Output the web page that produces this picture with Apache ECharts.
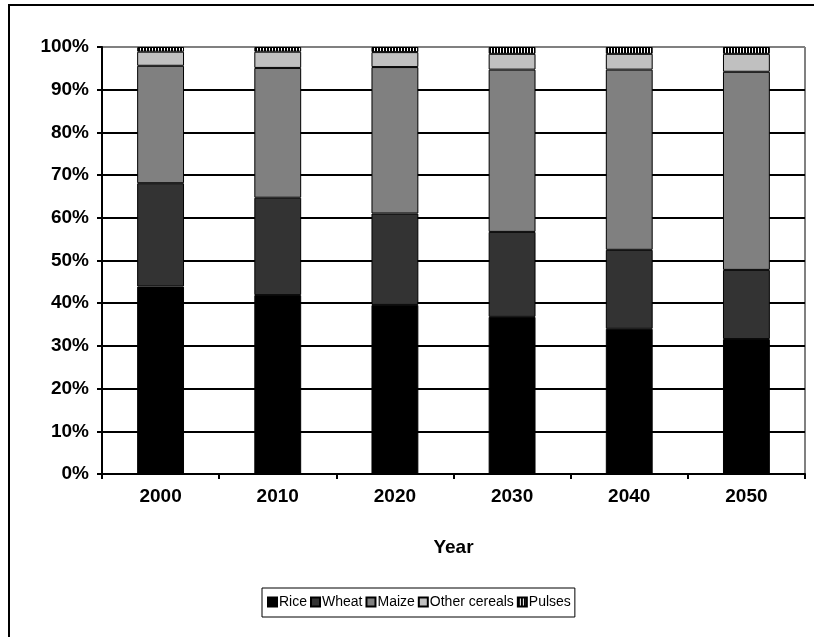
<!DOCTYPE html>
<html>
<head>
<meta charset="utf-8">
<script src="https://cdn.jsdelivr.net/npm/echarts@6/dist/echarts.min.js"></script>
<style>
    html, body {margin: 0; padding: 0; background: #fff;}
    #chart {width: 814px; height: 637px;}
</style>
</head>
<body>
<div id="chart"></div>
<script>
var years = ['2000', '2010', '2020', '2030', '2040', '2050'];
var rice = [43.9, 41.9, 39.6, 36.8, 34.0, 31.6];
var wheat = [24.2, 22.8, 21.4, 19.9, 18.5, 16.2];
var maize = [27.5, 30.4, 34.3, 38.0, 42.2, 46.4];
var otherCereals = [3.3, 3.8, 3.5, 3.7, 3.7, 4.2];
var pulses = [1.1, 1.1, 1.2, 1.6, 1.6, 1.6];
var yTicks = [0, 10, 20, 30, 40, 50, 60, 70, 80, 90, 100];

var chart = echarts.init(document.getElementById('chart'));

// vertical stripes for pulses
function stripes() {
    var c = document.createElement('canvas');
    c.width = 3;
    c.height = 2;
    var ctx = c.getContext('2d');
    ctx.fillStyle = '#fff';
    ctx.fillRect(0, 0, 3, 2);
    ctx.fillStyle = '#000';
    ctx.fillRect(0, 0, 2, 2);
    return c;
}

var font = '"Liberation Sans", Arial, sans-serif';
// last split line (100%) is the grey plot border
var splitColors = yTicks.map(function (v) { return v === 100 ? '#808080' : '#000'; });

function bar(name, data, color) {
    return {
        name: name,
        type: 'bar',
        stack: 'all',
        barCategoryGap: '60%',
        data: data,
        itemStyle: {color: color, borderColor: '#000', borderWidth: 1},
        emphasis: {disabled: true}
    };
}

var labelStyle = {fontFamily: font, fontSize: 19, fontWeight: 'bold', color: '#000'};

var option = {
    animation: false,
    backgroundColor: '#fff',
    textStyle: {fontFamily: font},
    graphic: [
        {
            type: 'rect',
            shape: {x: 9, y: 5, width: 900, height: 900},
            style: {fill: null, stroke: '#000', lineWidth: 2},
            silent: true
        },
        {
            type: 'line',
            shape: {x1: 805, y1: 47, x2: 805, y2: 474},
            style: {stroke: '#808080', lineWidth: 2},
            silent: true
        }
    ],
    grid: {left: 102, right: 9, top: 47, bottom: 163, containLabel: false},
    legend: {
        left: 262,
        top: 588,
        padding: [7, 4, 8, 5],
        borderColor: '#000',
        borderWidth: 1,
        itemWidth: 9,
        itemHeight: 9,
        itemGap: 3,
        icon: 'rect',
        textStyle: {fontFamily: font, fontSize: 14, color: '#000', padding: [0, 0, 0, -3]},
        data: ['Rice', 'Wheat', 'Maize', 'Other cereals', 'Pulses']
    },
    xAxis: {
        type: 'category',
        data: years,
        name: 'Year',
        nameLocation: 'middle',
        nameGap: 64,
        nameTextStyle: labelStyle,
        axisLine: {lineStyle: {color: '#000', width: 2}},
        axisTick: {show: true, length: 5, lineStyle: {color: '#000', width: 2}},
        axisLabel: Object.assign({margin: 13}, labelStyle)
    },
    yAxis: {
        type: 'value',
        min: 0,
        max: 100,
        interval: 10,
        axisLine: {show: true, lineStyle: {color: '#000', width: 2}},
        axisTick: {show: true, length: 5, lineStyle: {color: '#000', width: 2}},
        axisLabel: Object.assign({margin: 13, formatter: '{value}%'}, labelStyle),
        splitLine: {show: true, lineStyle: {color: splitColors, width: 2}}
    },
    series: [
        bar('Rice', rice, '#000000'),
        bar('Wheat', wheat, '#333333'),
        bar('Maize', maize, '#808080'),
        bar('Other cereals', otherCereals, '#c0c0c0'),
        bar('Pulses', pulses, {image: stripes(), repeat: 'repeat'})
    ]
};

chart.setOption(option);
</script>
</body>
</html>
